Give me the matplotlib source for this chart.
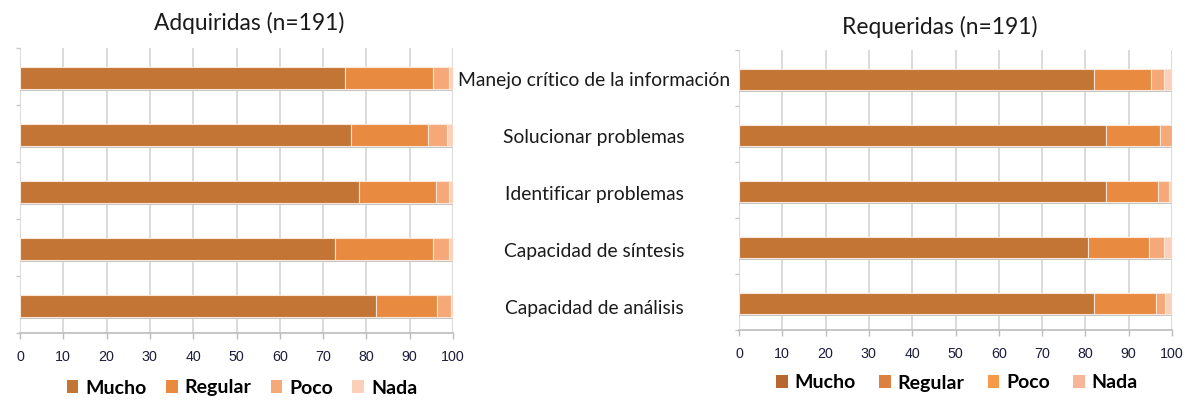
import matplotlib
matplotlib.use("Agg")
import matplotlib.pyplot as plt
import matplotlib.transforms as mtransforms
from matplotlib.patches import Patch
import numpy as np

# ---- data ----
categories = ["Manejo crítico de la información", "Solucionar problemas",
              "Identificar problemas", "Capacidad de síntesis", "Capacidad de análisis"]
series = ["Mucho", "Regular", "Poco", "Nada"]

adq_mucho = [75.0, 76.4, 78.2, 72.8, 82.3]
adq_regular = [20.4, 17.8, 17.8, 22.6, 14.1]
adq_poco = [3.7, 4.3, 3.1, 3.7, 3.1]
adq_nada = [0.9, 1.5, 0.9, 0.9, 0.5]

req_mucho = [82.1, 84.7, 84.7, 80.5, 82.1]
req_regular = [13.1, 12.6, 12.0, 14.1, 14.2]
req_poco = [3.0, 2.7, 2.7, 3.6, 2.0]
req_nada = [1.8, 0.0, 0.6, 1.8, 1.7]

ticks = [0, 10, 20, 30, 40, 50, 60, 70, 80, 90, 100]
title_left = "Adquiridas (n=191)"
title_right = "Requeridas (n=191)"

bar_colors = ["#c27535", "#e88b41", "#f5a878", "#fbd0b8"]
legend_colors_right = ["#b8682e", "#dd8142", "#f79a48", "#f8b597"]

W, H = 1185, 400
fig = plt.figure(figsize=(W / 100, H / 100), dpi=100)
fig.patch.set_facecolor("white")

FONT = "Lato"
TICKCOL = "#1c1c3c"
GRIDCOL = "#d4d4d4"


def make_axes(rect, mucho, regular, poco, nada):
    ax = fig.add_axes(rect)
    y = np.arange(len(categories)) + 0.03
    h = 0.38
    data = [mucho, regular, poco, nada]
    # shadow under bars
    tot = np.array(mucho) + np.array(regular) + np.array(poco) + np.array(nada)
    ax.barh(y + 0.035, tot, height=h, color="#c4c4c4", zorder=2, linewidth=0)
    left = np.zeros(len(categories))
    for vals, col, name in zip(data, bar_colors, series):
        ax.barh(y, vals, left=left, height=h, color=col, edgecolor="#fbe6d8",
                linewidth=0.8, zorder=3, label=name)
        left += np.array(vals)
    ax.set_xlim(0, 100)
    ax.set_ylim(4.5, -0.5)
    ax.set_xticks(ticks)
    ax.set_xticklabels([str(t) for t in ticks], fontfamily="Liberation Sans",
                       fontsize=10.3, color=TICKCOL)
    ax.tick_params(axis="x", length=4, width=1, color="#bcbcbc", pad=8.5)
    ax.set_yticks(np.arange(-0.5, 5.0, 1.0))
    ax.set_yticklabels([])
    ax.tick_params(axis="y", length=3, width=1, color="#c8c8c8")
    ax.grid(axis="x", color=GRIDCOL, linewidth=1.2, zorder=0)
    ax.set_axisbelow(True)
    for s in ["top", "right", "left"]:
        ax.spines[s].set_visible(False)
    ax.spines["bottom"].set_color("#bcbcbc")
    ax.spines["bottom"].set_linewidth(1.2)
    ax.set_facecolor("white")
    return ax


axL = make_axes([20 / W, (H - 333) / H, 433 / W, 285 / H],
                adq_mucho, adq_regular, adq_poco, adq_nada)
axR = make_axes([739 / W, (H - 330) / H, 433 / W, 280 / H],
                req_mucho, req_regular, req_poco, req_nada)

# category labels in the middle
trans = mtransforms.blended_transform_factory(fig.transFigure, axL.transData)
for i, c in enumerate(categories):
    fig.text(594 / W, i + 0.07, c, transform=trans, ha="center", va="center",
             fontfamily=FONT, fontsize=13.9, color="#1a1a1a")

# titles
fig.text(249 / W, 1 - 23 / H, title_left, ha="center", va="center",
         fontfamily=FONT, fontsize=16.4, color="#1a1a1a")
fig.text(940 / W, 1 - 27 / H, title_right, ha="center", va="center",
         fontfamily=FONT, fontsize=16.4, color="#1a1a1a")

# legends
hL = [Patch(facecolor=c, edgecolor="none", label=s) for c, s in zip(bar_colors, series)]
hR = [Patch(facecolor=c, edgecolor="none", label=s) for c, s in zip(legend_colors_right, series)]
legprops = dict(family=FONT, weight="bold", size=14)
fig.legend(handles=hL, loc="center", bbox_to_anchor=(242 / W, 1 - 388 / H), ncol=4,
           frameon=False, prop=legprops, handlelength=0.6, handleheight=0.6,
           handletextpad=0.35, columnspacing=1.0, borderaxespad=0)
fig.legend(handles=hR, loc="center", bbox_to_anchor=(957 / W, 1 - 383 / H), ncol=4,
           frameon=False, prop=legprops, handlelength=0.6, handleheight=0.6,
           handletextpad=0.35, columnspacing=1.2, borderaxespad=0)

fig.savefig("out.png", dpi=100, facecolor="white")
